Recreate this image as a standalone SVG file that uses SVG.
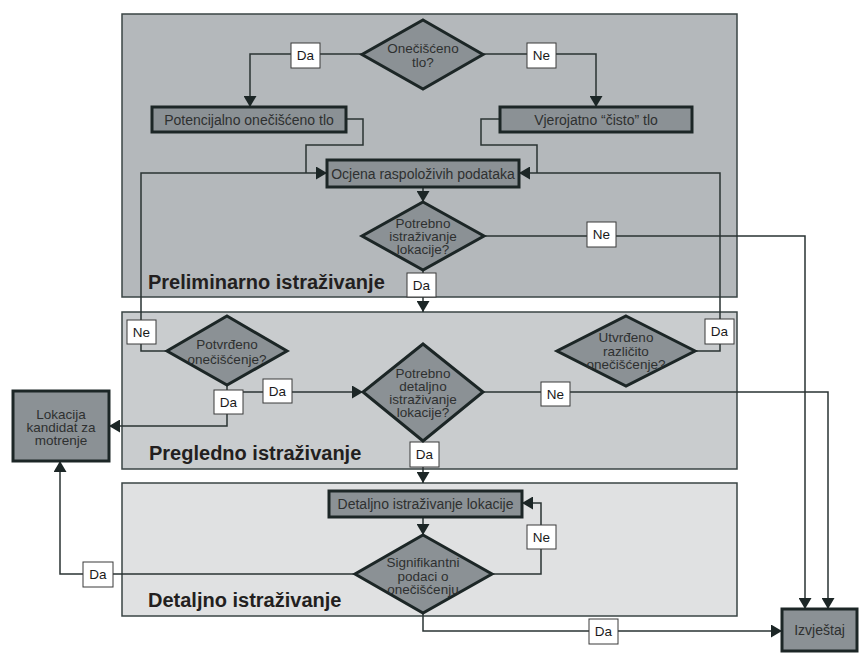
<svg xmlns="http://www.w3.org/2000/svg" width="860" height="658" viewBox="0 0 860 658">
<style>
.panel{stroke:#3a4444;stroke-width:1.5}
.p1{fill:#b4b8bb}.p2{fill:#c9ccce}.p3{fill:#e0e1e2}
.node{fill:#8b9195;stroke:#1c2626;stroke-width:3}
.t{font-family:"Liberation Sans",Arial,sans-serif;font-size:14px;fill:#2e3030;text-anchor:middle;dominant-baseline:central}
.d{font-size:13.5px}
.title{font-family:"Liberation Sans",Arial,sans-serif;font-size:20px;font-weight:bold;fill:#231f20}
.lbl rect{fill:#fff;stroke:#3a3a3a;stroke-width:1}
.lbl text{font-family:"Liberation Sans",Arial,sans-serif;font-size:13.5px;fill:#1a1a1a;text-anchor:middle;dominant-baseline:central}
.c{fill:none;stroke:#2a3333;stroke-width:1.5}
</style>
<defs>
<marker id="ah" markerUnits="userSpaceOnUse" markerWidth="12" markerHeight="13" refX="11" refY="6.5" orient="auto">
<path d="M0,0 L11,6.5 L0,13 z" fill="#1c2626"/>
</marker>
</defs>
<g id="panels">
<rect class="panel p1" x="122" y="14" width="615" height="283"/>
<rect class="panel p2" x="122" y="312" width="615" height="157"/>
<rect class="panel p3" x="122" y="483" width="615" height="133"/>
<text class="title" x="148" y="289">Preliminarno istraživanje</text>
<text class="title" x="149" y="460">Pregledno istraživanje</text>
<text class="title" x="148" y="607">Detaljno istraživanje</text>
</g>
<g id="connectors">
<polyline class="c" points="362,54 250,54 250,107" marker-end="url(#ah)"/>
<polyline class="c" points="483,54 596,54 596,107" marker-end="url(#ah)"/>
<polyline class="c" points="346,119 363,119 363,145 306,145 306,173"/>
<polyline class="c" points="500,119 481,119 481,145 537,145 537,173"/>
<polyline class="c" points="167,351 141,351 141,173 327,173" marker-end="url(#ah)"/>
<polyline class="c" points="695,351 720,351 720,173 519,173" marker-end="url(#ah)"/>
<polyline class="c" points="423,187 423,202" marker-end="url(#ah)"/>
<polyline class="c" points="484,236 805,236 805,609" marker-end="url(#ah)"/>
<polyline class="c" points="423,270 423,312" marker-end="url(#ah)"/>
<polyline class="c" points="227,385 227,426 109,426" marker-end="url(#ah)"/>
<polyline class="c" points="243,392 363,392" marker-end="url(#ah)"/>
<polyline class="c" points="483,392 828,392 828,609" marker-end="url(#ah)"/>
<polyline class="c" points="423,441 423,483" marker-end="url(#ah)"/>
<polyline class="c" points="423,517 423,535" marker-end="url(#ah)"/>
<polyline class="c" points="492,574 541,574 541,503 522,503" marker-end="url(#ah)"/>
<polyline class="c" points="355,574 60,574 60,461" marker-end="url(#ah)"/>
<polyline class="c" points="423,613 423,631 782,631" marker-end="url(#ah)"/>
</g>
<g id="labels">
<g class="lbl"><rect x="291" y="43" width="29" height="25"/><text x="305.5" y="55.5">Da</text></g>
<g class="lbl"><rect x="527" y="43" width="29" height="25"/><text x="541.5" y="55.5">Ne</text></g>
<g class="lbl"><rect x="587" y="222" width="29" height="25"/><text x="601.5" y="234.5">Ne</text></g>
<g class="lbl"><rect x="407" y="273" width="29" height="24"/><text x="421.5" y="285">Da</text></g>
<g class="lbl"><rect x="127" y="320" width="29" height="24"/><text x="141.5" y="332">Ne</text></g>
<g class="lbl"><rect x="705" y="319" width="29" height="25"/><text x="719.5" y="331.5">Da</text></g>
<g class="lbl"><rect x="214" y="390" width="29" height="24"/><text x="228.5" y="402">Da</text></g>
<g class="lbl"><rect x="263" y="379" width="29" height="24"/><text x="277.5" y="391">Da</text></g>
<g class="lbl"><rect x="541" y="382" width="29" height="24"/><text x="555.5" y="394">Ne</text></g>
<g class="lbl"><rect x="410" y="442" width="29" height="25"/><text x="424.5" y="454.5">Da</text></g>
<g class="lbl"><rect x="527" y="525" width="29" height="24"/><text x="541.5" y="537">Ne</text></g>
<g class="lbl"><rect x="83" y="562" width="30" height="25"/><text x="98" y="574.5">Da</text></g>
<g class="lbl"><rect x="589" y="619" width="29" height="25"/><text x="603.5" y="631.5">Da</text></g>
</g>
<g id="n-oneciscено">
<polygon class="node" points="423,20 483,54.5 423,89 362,54.5"/>
<text class="t d" x="423" y="48">Onečišćeno</text>
<text class="t d" x="423" y="62">tlo?</text>
</g>
<g id="n-potencijalno">
<rect class="node" x="152" y="107" width="194" height="25"/>
<text class="t" x="249" y="119.5">Potencijalno onečišćeno tlo</text>
</g>
<g id="n-vjerojatno">
<rect class="node" x="500" y="107" width="192" height="25"/>
<text class="t" x="596" y="119.5">Vjerojatno “čisto” tlo</text>
</g>
<g id="n-ocjena">
<rect class="node" x="327" y="160" width="192" height="27"/>
<text class="t" x="423" y="173.5">Ocjena raspoloživih podataka</text>
</g>
<g id="n-potrebno-istrazivanje">
<polygon class="node" points="423,202 484,236 423,270 362,236"/>
<text class="t d" x="423" y="223">Potrebno</text>
<text class="t d" x="423" y="236">istraživanje</text>
<text class="t d" x="423" y="249">lokacije?</text>
</g>
<g id="n-potvrdeno">
<polygon class="node" points="227,316 287,351 227,385 167,351"/>
<text class="t d" x="227" y="344">Potvrđeno</text>
<text class="t d" x="227" y="359">onečišćenje?</text>
</g>
<g id="n-potrebno-detaljno">
<polygon class="node" points="423,344 483,392 423,441 363,392"/>
<text class="t d" x="423" y="373">Potrebno</text>
<text class="t d" x="423" y="386">detaljno</text>
<text class="t d" x="423" y="399.5">istraživanje</text>
<text class="t d" x="423" y="412">lokacije?</text>
</g>
<g id="n-utvrdeno">
<polygon class="node" points="626,316 695,351 626,386 557,351"/>
<text class="t d" x="626" y="337">Utvrđeno</text>
<text class="t d" x="626" y="351">različito</text>
<text class="t d" x="626" y="364">onečišćenje?</text>
</g>
<g id="n-lokacija">
<rect class="node" x="13" y="391" width="96" height="70"/>
<text class="t d" x="61" y="414">Lokacija</text>
<text class="t d" x="61" y="427">kandidat za</text>
<text class="t d" x="61" y="440">motrenje</text>
</g>
<g id="n-detaljno">
<rect class="node" x="329" y="491" width="193" height="26"/>
<text class="t" x="425.5" y="504">Detaljno istraživanje lokacije</text>
</g>
<g id="n-signifikantni">
<polygon class="node" points="423,535 492,574 423,613 355,574"/>
<text class="t d" x="423" y="562">Signifikantni</text>
<text class="t d" x="423" y="576">podaci o</text>
<text class="t d" x="423" y="589">onečišćenju</text>
</g>
<g id="n-izvjestaj">
<rect class="node" x="782" y="609" width="75" height="42"/>
<text class="t" x="819.5" y="630">Izvještaj</text>
</g>
</svg>
